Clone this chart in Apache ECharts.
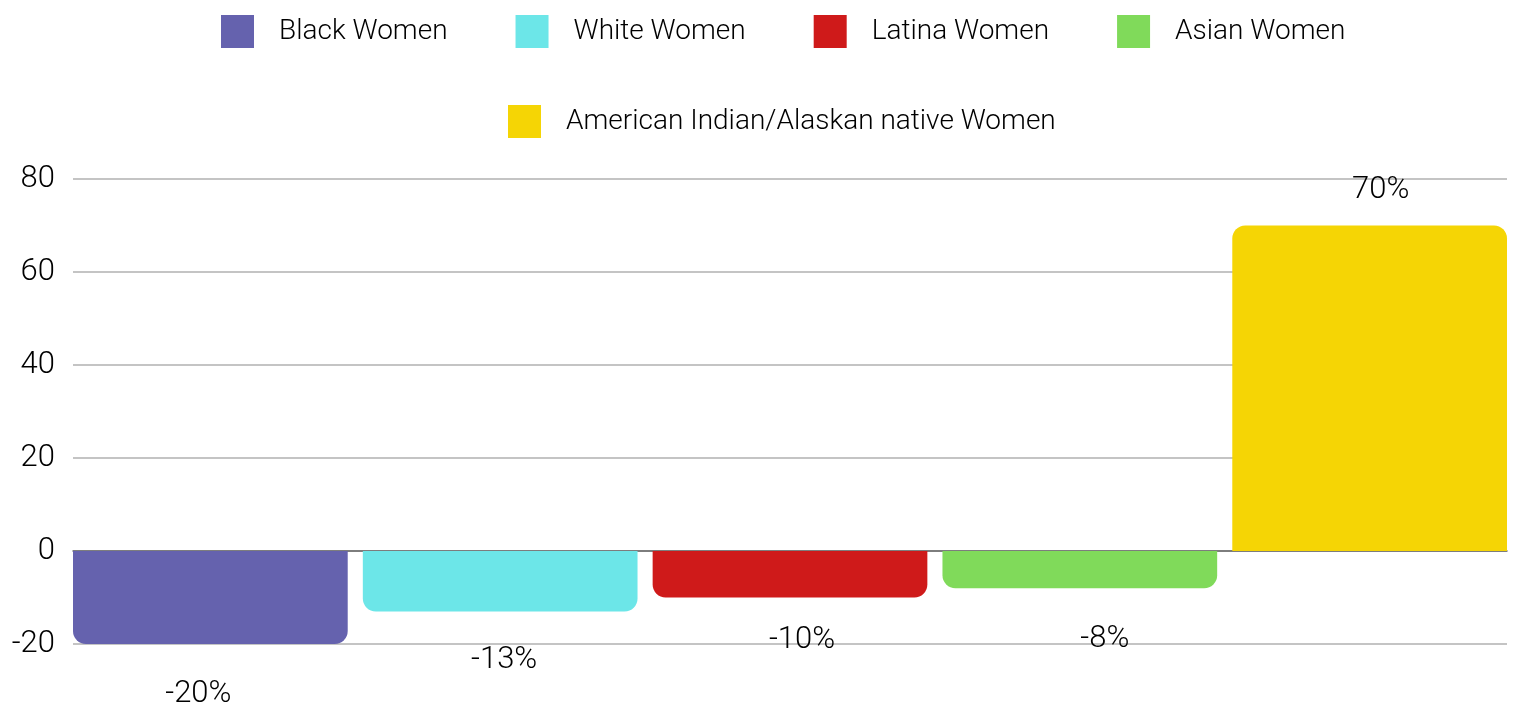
<!DOCTYPE html>
<html>
<head>
<meta charset="utf-8">
<script src="https://cdn.jsdelivr.net/npm/echarts@6/dist/echarts.min.js"></script>
<style>
  html, body { margin: 0; padding: 0; background: #fff; }
  #chart { width: 1525px; height: 706px; }
</style>
</head>
<body>
<div id="chart"></div>
<script>
// data
var seriesNames = ['Black Women', 'White Women', 'Latina Women', 'Asian Women', 'American Indian/Alaskan native Women']
var seriesValues = [-20, -13, -10, -8, 70]
var categories = ['']

// styles
var seriesColors = ['#6562ae', '#6ce6e8', '#cf1a1a', '#80da5a', '#f5d505']
var labelGaps = [35, 33, 27, 36, 20]
var labelShift = [-12, 4, 12, 25, 11]

var fontFamily = 'Roboto, "Noto Sans", sans-serif'
var chart = echarts.init(document.getElementById('chart'))

var series = seriesNames.map(function(name, i) {
  var neg = seriesValues[i] < 0
  return {
    name: name,
    type: 'bar',
    data: [seriesValues[i]],
    barGap: '5.5%',
    barCategoryGap: '0%',
    itemStyle: {
      color: seriesColors[i],
      borderRadius: neg ? [0, 0, 13, 13] : [13, 13, 0, 0]
    },
    label: {
      show: true,
      position: neg ? 'bottom' : 'top',
      distance: labelGaps[i],
      offset: [labelShift[i], 0],
      formatter: '{c}%',
      color: '#000',
      fontSize: 31,
      fontWeight: 300,
      fontFamily: fontFamily
    }
  }
})

var legendBase = {
  icon: 'rect',
  itemWidth: 33,
  itemHeight: 33,
  textStyle: {
    color: '#000',
    fontSize: 28,
    fontWeight: 300,
    fontFamily: fontFamily,
    padding: [0, 0, 0, 20]
  }
}

var option = {
  animation: false,
  legend: [
    Object.assign({}, legendBase, { top: 10, left: 216, itemGap: 68, data: seriesNames.slice(0, 4) }),
    Object.assign({}, legendBase, { top: 100, left: 503, data: seriesNames.slice(4) })
  ],
  grid: { left: 73, right: 18, top: 179, bottom: 62 },
  xAxis: {
    type: 'category',
    data: categories,
    axisTick: { show: false },
    axisLabel: { show: false },
    axisLine: { lineStyle: { color: '#666', width: 1.5 } }
  },
  yAxis: {
    type: 'value',
    min: -20,
    max: 80,
    interval: 20,
    axisLabel: { color: '#000', fontSize: 31, fontWeight: 300, fontFamily: fontFamily, margin: 18 },
    splitLine: { lineStyle: { color: '#c4c4c4', width: 2 } }
  },
  series: series
}
chart.setOption(option)
</script>
</body>
</html>
